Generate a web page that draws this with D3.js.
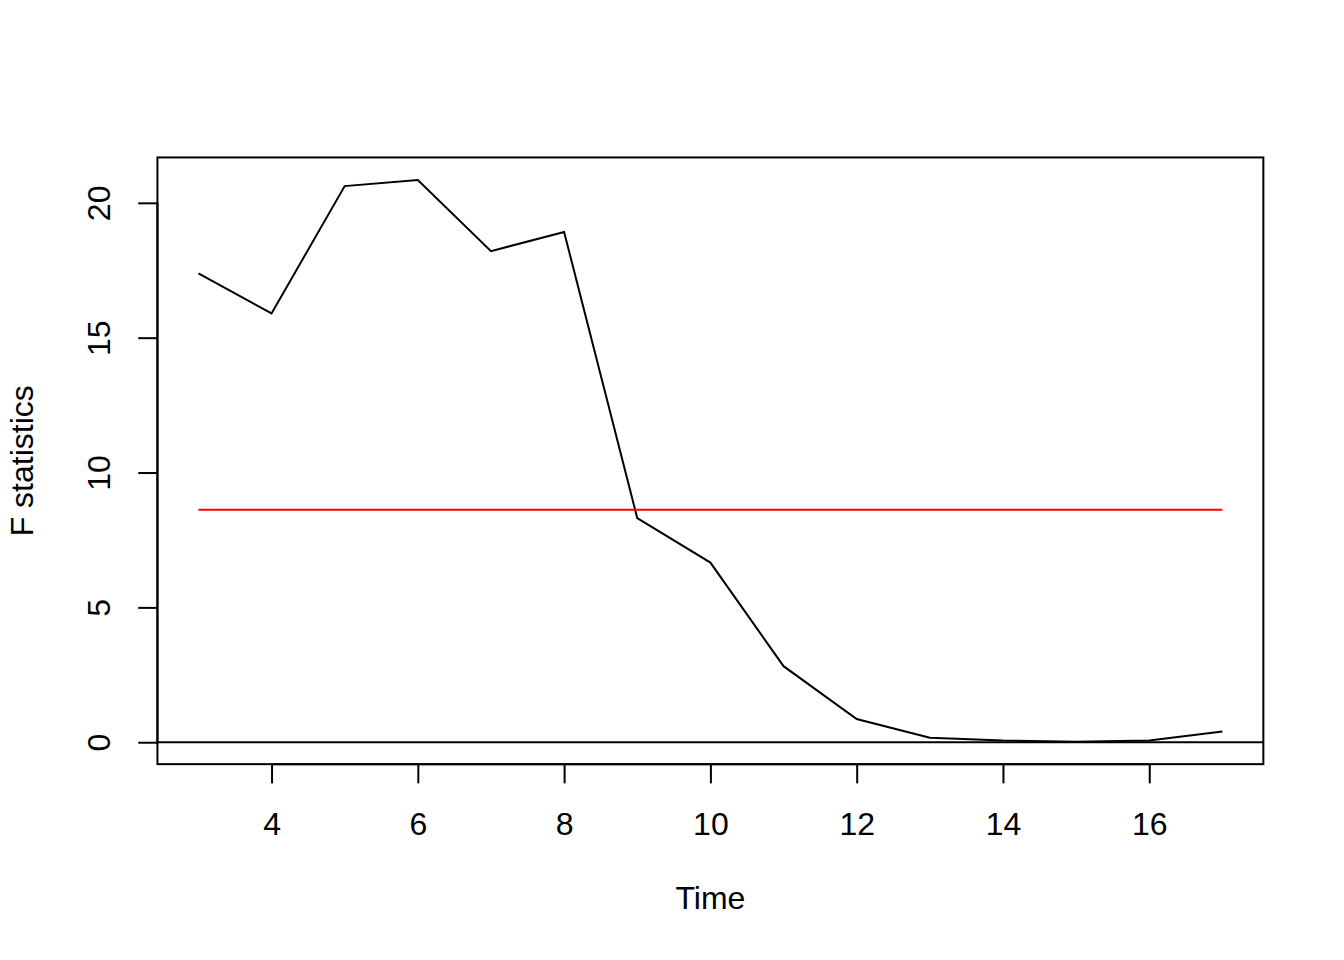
<!DOCTYPE html>
<html>
<head>
<meta charset="utf-8">
<script src="https://cdn.jsdelivr.net/npm/d3@7"></script>
<style>
  html, body { margin: 0; padding: 0; background: #ffffff; }
  svg { display: block; }
  text { font-family: "Liberation Sans", Arial, Helvetica, sans-serif; fill: #000; }
</style>
</head>
<body>
<svg id="chart" width="1344" height="960"></svg>
<script>
// ---- data ----
const time = [3, 4, 5, 6, 7, 8, 9, 10, 11, 12, 13, 14, 15, 16, 17];
const fstats = [17.38, 15.90, 20.62, 20.85, 18.21, 18.92, 8.31, 6.66, 2.82, 0.86, 0.17, 0.06, 0.02, 0.06, 0.40];
const criticalValue = 8.62;
const xTicks = [4, 6, 8, 10, 12, 14, 16];
const yTicks = [0, 5, 10, 15, 20];
const xLabel = "Time";
const yLabel = "F statistics";

(function () {
// ---- layout (R default margins at 192 dpi) ----
const W = 1344, H = 960;
const lineH = 38.4;
const pLeft = 4.1 * lineH, pRight = W - 2.1 * lineH, pTop = 4.1 * lineH, pBottom = H - 5.1 * lineH;
const fontSize = 32;

function padExtent(arr) {
  const [a, b] = d3.extent(arr);
  const p = (b - a) * 0.04;
  return [a - p, b + p];
}

const x = d3.scaleLinear().domain(padExtent(time)).range([pLeft, pRight]);
const y = d3.scaleLinear().domain(padExtent(fstats)).range([pBottom, pTop]);

const svg = d3.select("#chart");
svg.append("rect").attr("width", W).attr("height", H).attr("fill", "#fff");

svg.append("clipPath").attr("id", "clip")
  .append("rect").attr("x", pLeft).attr("y", pTop).attr("width", pRight - pLeft).attr("height", pBottom - pTop);

const plot = svg.append("g").attr("clip-path", "url(#clip)");

// main series
const line = d3.line().x((d, i) => x(time[i])).y(d => y(d));
plot.append("path")
  .datum(fstats)
  .attr("d", line)
  .attr("fill", "none")
  .attr("stroke", "#000")
  .attr("stroke-width", 2)
  .attr("stroke-linejoin", "miter");

// critical value line
plot.append("path")
  .datum([time[0], time[time.length - 1]])
  .attr("d", d3.line().x(d => x(d)).y(() => y(criticalValue)))
  .attr("fill", "none")
  .attr("stroke", "#FF0000")
  .attr("stroke-width", 2);

// zero line (abline h = 0)
plot.append("line")
  .attr("x1", pLeft).attr("x2", pRight)
  .attr("y1", y(0)).attr("y2", y(0))
  .attr("stroke", "#000")
  .attr("stroke-width", 2);

// x axis
const xAxis = svg.append("g")
  .attr("transform", `translate(0,${pBottom})`)
  .call(d3.axisBottom(x).tickValues(xTicks).tickSize(lineH / 2).tickSizeOuter(0).tickFormat(d3.format("d")));
xAxis.select(".domain").attr("d", `M${x(xTicks[0])},0H${x(xTicks[xTicks.length - 1])}`)
  .attr("stroke", "#000").attr("stroke-width", 2);
xAxis.selectAll(".tick line").attr("stroke", "#000").attr("stroke-width", 2);
xAxis.selectAll(".tick text")
  .attr("y", 70.6).attr("dy", 0)
  .style("font-size", fontSize + "px")
  .style("font-family", "'Liberation Sans', Arial, sans-serif")
  .attr("fill", "#000");

// y axis
const yAxis = svg.append("g")
  .attr("transform", `translate(${pLeft},0)`)
  .call(d3.axisLeft(y).tickValues(yTicks).tickSize(lineH / 2).tickSizeOuter(0).tickFormat(d3.format("d")));
yAxis.select(".domain").attr("d", `M0,${y(yTicks[0])}V${y(yTicks[yTicks.length - 1])}`)
  .attr("stroke", "#000").attr("stroke-width", 2);
yAxis.selectAll(".tick line").attr("stroke", "#000").attr("stroke-width", 2);
yAxis.selectAll(".tick text")
  .attr("transform", "rotate(-90)")
  .attr("x", 0).attr("y", -47).attr("dy", 0)
  .attr("text-anchor", "middle")
  .style("font-size", fontSize + "px")
  .style("font-family", "'Liberation Sans', Arial, sans-serif")
  .attr("fill", "#000");

// box
svg.append("rect")
  .attr("x", pLeft).attr("y", pTop)
  .attr("width", pRight - pLeft).attr("height", pBottom - pTop)
  .attr("fill", "none").attr("stroke", "#000").attr("stroke-width", 2);

// axis titles
svg.append("text")
  .attr("x", (pLeft + pRight) / 2).attr("y", 909)
  .attr("text-anchor", "middle")
  .style("font-size", fontSize + "px")
  .text(xLabel);

svg.append("text")
  .attr("transform", `translate(33.3,${(pTop + pBottom) / 2}) rotate(-90)`)
  .attr("text-anchor", "middle")
  .style("font-size", fontSize + "px")
  .text(yLabel);
})();
</script>
</body>
</html>
